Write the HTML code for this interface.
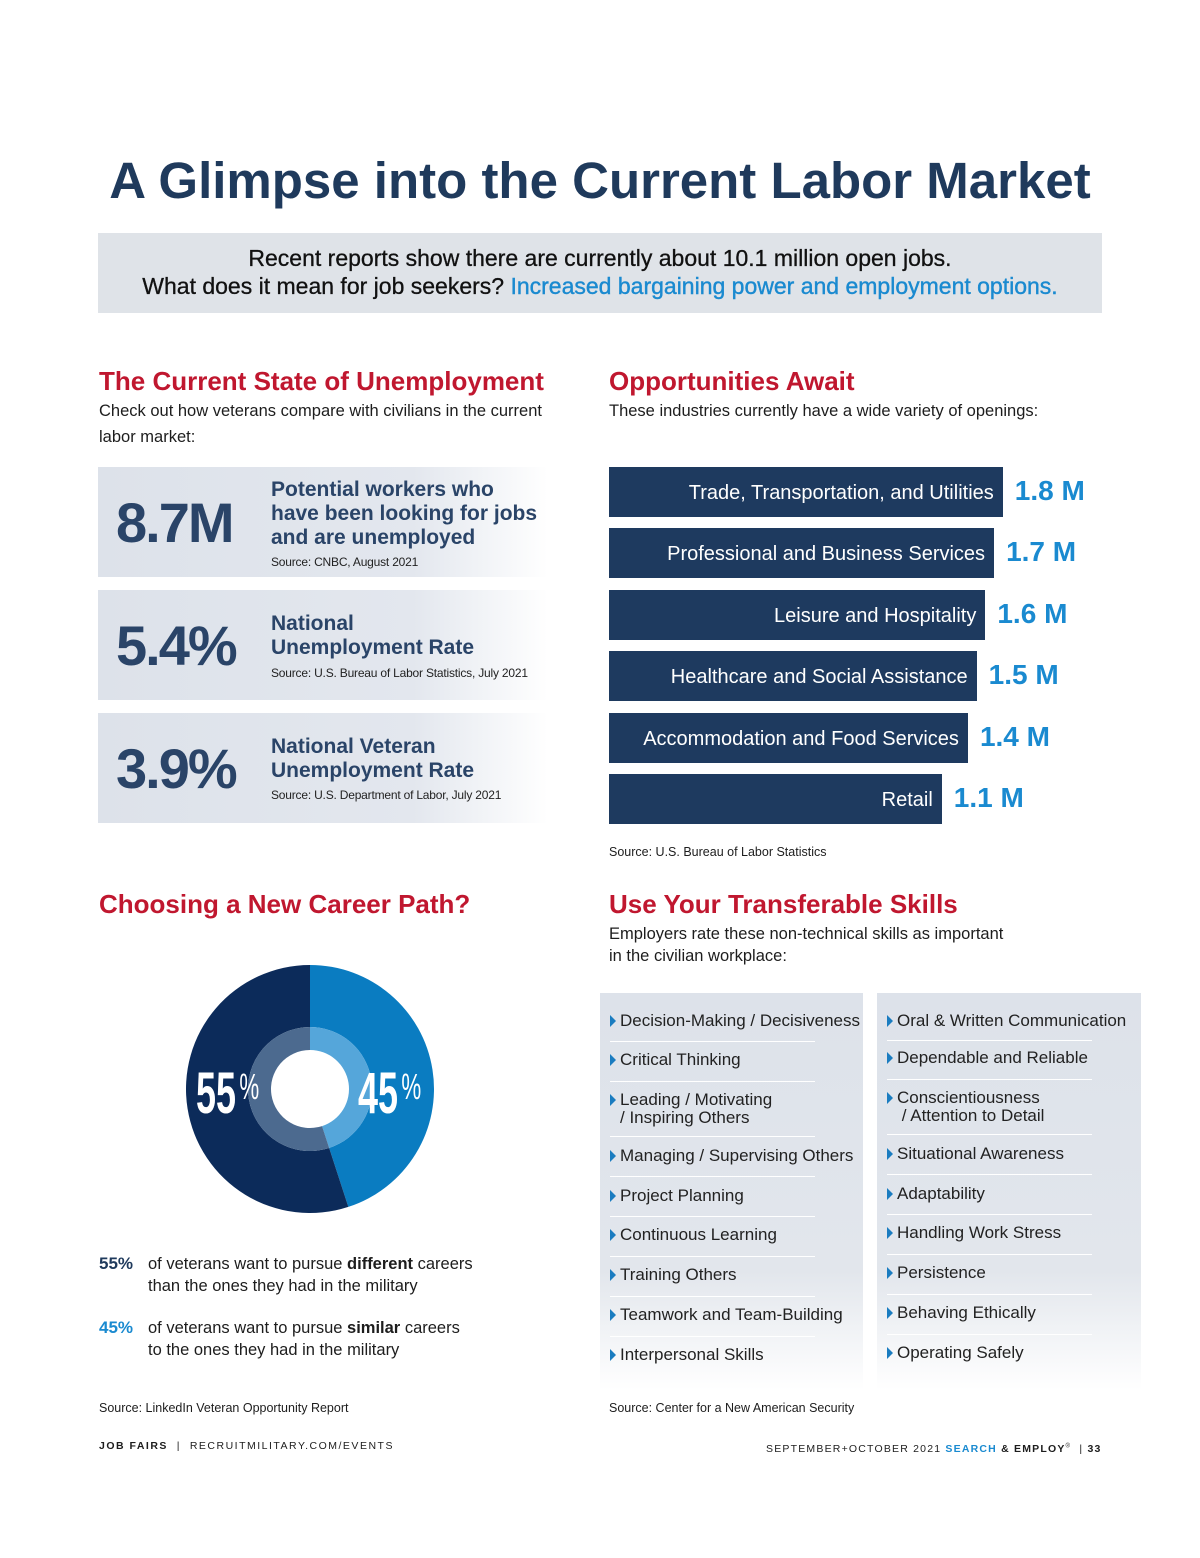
<!DOCTYPE html>
<html><head><meta charset="utf-8"><style>
*{margin:0;padding:0;box-sizing:border-box}
body{width:1200px;height:1558px;background:#fff;position:relative;font-family:"Liberation Sans",sans-serif;color:#1d1d1d;overflow:hidden}
.a{position:absolute}
.navy{color:#1f3a5c}
.red{color:#c0172f;font-weight:bold;font-size:26px}
.stat{position:absolute;left:98px;width:450px;height:110px;background:linear-gradient(90deg,#dde2ea 0%,#e3e7ee 70%,rgba(255,255,255,0) 100%)}
.big{position:absolute;left:18px;font-size:56px;font-weight:bold;color:#2a4468;letter-spacing:-2px}
.st{position:absolute;left:173px;font-size:21px;font-weight:bold;color:#2a4468;line-height:24px;white-space:nowrap}
.src{position:absolute;left:173px;font-size:12px;color:#222;white-space:nowrap;letter-spacing:-0.2px}
.panel{position:absolute;top:993px;height:397px;background:linear-gradient(180deg,#dde2ea 0%,#e2e6ec 70%,rgba(255,255,255,0) 100%)}
.sk{position:absolute;left:10px;font-size:17px;color:#222;line-height:18px;white-space:nowrap}
.sk:before{content:"";position:absolute;left:0;top:3px;border-left:6px solid #1a7cc0;border-top:6px solid transparent;border-bottom:6px solid transparent}
.sk span{display:block;padding-left:10px}
.ln{position:absolute;left:10px;width:205px;height:1px;background:#fff}
</style></head><body>
<div class="a navy" style="left:0;width:1200px;top:151px;text-align:center;font-size:51px;font-weight:bold">A Glimpse into the Current Labor Market</div>
<div class="a" style="left:98px;top:233px;width:1004px;height:80px;background:#dfe3e8;text-align:center;font-size:23px;line-height:28px;padding-top:11px;color:#111;-webkit-text-stroke:0.3px #111">Recent reports show there are currently about 10.1 million open jobs.<br>What does it mean for job seekers? <span style="color:#1a8ad0;-webkit-text-stroke:0.4px #1a8ad0">Increased bargaining power and employment options.</span></div>

<div class="a red" style="left:99px;top:366px">The Current State of Unemployment</div>
<div class="a" style="left:99px;top:398px;width:475px;font-size:16.5px;line-height:26px">Check out how veterans compare with civilians in the current labor market:</div>

<div class="stat" style="top:467px"><div class="big" style="top:23px">8.7M</div><div class="st" style="top:11px">Potential workers who<br>have been looking for jobs<br>and are unemployed</div><div class="src" style="top:88px">Source: CNBC, August 2021</div></div>
<div class="stat" style="top:590px"><div class="big" style="top:23px">5.4%</div><div class="st" style="top:22px">National<br>Unemployment Rate</div><div class="src" style="top:76px">Source: U.S. Bureau of Labor Statistics, July 2021</div></div>
<div class="stat" style="top:713px"><div class="big" style="top:23px">3.9%</div><div class="st" style="top:22px">National Veteran<br>Unemployment Rate</div><div class="src" style="top:75px">Source: U.S. Department of Labor, July 2021</div></div>

<div class="a red" style="left:609px;top:366px">Opportunities Await</div>
<div class="a" style="left:609px;top:398px;font-size:16.5px;line-height:26px">These industries currently have a wide variety of openings:</div>
<div id="bars"></div>
<div class="a" style="left:609px;top:845px;font-size:12.5px">Source: U.S. Bureau of Labor Statistics</div>

<div class="a red" style="left:99px;top:889px">Choosing a New Career Path?</div>
<svg class="a" id="donut" style="left:180px;top:960px" width="260" height="260"></svg>
<div class="a" style="left:99px;top:1253px;font-size:16.5px;line-height:22px"><b style="color:#1f3a5c;font-size:17px">55%</b><span style="position:absolute;left:49px;width:400px">of veterans want to pursue <b>different</b> careers<br>than the ones they had in the military</span></div>
<div class="a" style="left:99px;top:1317px;font-size:16.5px;line-height:22px"><b style="color:#1a8ad0;font-size:17px">45%</b><span style="position:absolute;left:49px;width:400px">of veterans want to pursue <b>similar</b> careers<br>to the ones they had in the military</span></div>
<div class="a" style="left:99px;top:1401px;font-size:12.5px">Source: LinkedIn Veteran Opportunity Report</div>

<div class="a red" style="left:609px;top:889px">Use Your Transferable Skills</div>
<div class="a" style="left:609px;top:923px;font-size:16.5px;line-height:22px">Employers rate these non-technical skills as important<br>in the civilian workplace:</div>

<div class="panel" style="left:600px;width:263px">
<div class="sk" style="top:19px"><span>Decision-Making / Decisiveness</span></div><div class="ln" style="top:48px"></div>
<div class="sk" style="top:58px"><span>Critical Thinking</span></div><div class="ln" style="top:88px"></div>
<div class="sk" style="top:98px"><span>Leading / Motivating<br>/ Inspiring Others</span></div><div class="ln" style="top:143px"></div>
<div class="sk" style="top:154px"><span>Managing / Supervising Others</span></div><div class="ln" style="top:183px"></div>
<div class="sk" style="top:194px"><span>Project Planning</span></div><div class="ln" style="top:223px"></div>
<div class="sk" style="top:233px"><span>Continuous Learning</span></div><div class="ln" style="top:263px"></div>
<div class="sk" style="top:273px"><span>Training Others</span></div><div class="ln" style="top:303px"></div>
<div class="sk" style="top:313px"><span>Teamwork and Team-Building</span></div><div class="ln" style="top:343px"></div>
<div class="sk" style="top:353px"><span>Interpersonal Skills</span></div>
</div>
<div class="panel" style="left:877px;width:264px">
<div class="sk" style="top:19px"><span>Oral &amp; Written Communication</span></div><div class="ln" style="top:47px"></div>
<div class="sk" style="top:56px"><span>Dependable and Reliable</span></div><div class="ln" style="top:86px"></div>
<div class="sk" style="top:96px"><span>Conscientiousness<br>&nbsp;/ Attention to Detail</span></div><div class="ln" style="top:141px"></div>
<div class="sk" style="top:152px"><span>Situational Awareness</span></div><div class="ln" style="top:181px"></div>
<div class="sk" style="top:192px"><span>Adaptability</span></div><div class="ln" style="top:221px"></div>
<div class="sk" style="top:231px"><span>Handling Work Stress</span></div><div class="ln" style="top:261px"></div>
<div class="sk" style="top:271px"><span>Persistence</span></div><div class="ln" style="top:301px"></div>
<div class="sk" style="top:311px"><span>Behaving Ethically</span></div><div class="ln" style="top:341px"></div>
<div class="sk" style="top:351px"><span>Operating Safely</span></div>
</div>
<div class="a" style="left:609px;top:1401px;font-size:12.5px">Source: Center for a New American Security</div>

<div class="a" style="left:99px;top:1440px;font-size:10.5px;letter-spacing:1.5px"><b>JOB FAIRS</b> &nbsp;|&nbsp; RECRUITMILITARY.COM/EVENTS</div>
<div class="a" style="left:766px;top:1443px;font-size:10.5px;letter-spacing:1.2px">SEPTEMBER+OCTOBER 2021 <b style="color:#1a8ad0">SEARCH</b> <b>&amp; EMPLOY</b><sup style="font-size:6px">®</sup> &nbsp;| <b>33</b></div>

<script>
const industries=["Trade, Transportation, and Utilities","Professional and Business Services","Leisure and Hospitality","Healthcare and Social Assistance","Accommodation and Food Services","Retail"];
const openings=[1.8,1.7,1.6,1.5,1.4,1.1];
const valueLabels=["1.8 M","1.7 M","1.6 M","1.5 M","1.4 M","1.1 M"];
const bx=x=>237+87.1*x, by=i=>467+i*61.4;
const host=document.getElementById('bars');
industries.forEach((n,i)=>{
 const b=document.createElement('div');
 
 
 b.className='a';
 b.style.cssText=`left:609px;top:${by(i)}px;width:${bx(openings[i])}px;height:50px;background:#1e3a5f;color:#fff;font-size:20px;text-align:right;padding-right:9px;line-height:52px;white-space:nowrap`;
 b.textContent=n;host.appendChild(b);
 const v=document.createElement('div');
 
 
 v.className='a';
 v.style.cssText=`left:${609+bx(openings[i])+12}px;top:${by(i)+8}px;font-size:28px;font-weight:bold;color:#1a8ad0;white-space:nowrap`;
 v.textContent=valueLabels[i];host.appendChild(v);
});
const shares=[45,55];
const outer=["#0a7cc1","#0c2b5a"], inner=["#55a6da","#4c6a8f"], shareNums=["45","55"];
const svg=document.getElementById('donut'),NS="http://www.w3.org/2000/svg",cx=130,cy=129;
function arc(r0,r1,a0,a1){const p=(r,a)=>[cx+r*Math.sin(a),cy-r*Math.cos(a)];const l=a1-a0>Math.PI?1:0;const A=p(r1,a0),B=p(r1,a1),C=p(r0,a1),D=p(r0,a0);return `M${A}A${r1},${r1} 0 ${l} 1 ${B}L${C}A${r0},${r0} 0 ${l} 0 ${D}Z`;}
let a=0;const tot=shares.reduce((s,x)=>s+x,0);
shares.forEach((s,i)=>{const a1=a+s/tot*2*Math.PI;
 [[62,124,outer[i]],[39,62,inner[i]]].forEach(([r0,r1,c])=>{const p=document.createElementNS(NS,'path');
 
 
 p.setAttribute('d',arc(r0,r1,a,a1));p.setAttribute('fill',c);svg.appendChild(p);});
 a=a1;});
[[178,shareNums[0]],[16,shareNums[1]]].forEach(([x,t])=>{
 const g=document.createElementNS(NS,'g');
 
 
 g.setAttribute('transform',`translate(${x},153) scale(0.62,1)`);
 const e=document.createElementNS(NS,'text');
 e.setAttribute('x',0);e.setAttribute('y',0);e.setAttribute('fill','#fff');e.setAttribute('font-weight','bold');e.setAttribute('font-size','58');e.setAttribute('font-family','Liberation Sans, sans-serif');
 e.textContent=t;g.appendChild(e);
 const pc=document.createElementNS(NS,'text');
 pc.setAttribute('x',70);pc.setAttribute('y',-14);pc.setAttribute('fill','#fff');pc.setAttribute('font-size','36');pc.setAttribute('font-family','Liberation Sans, sans-serif');
 pc.textContent='%';g.appendChild(pc);
 svg.appendChild(g);});
</script>
</body></html>
